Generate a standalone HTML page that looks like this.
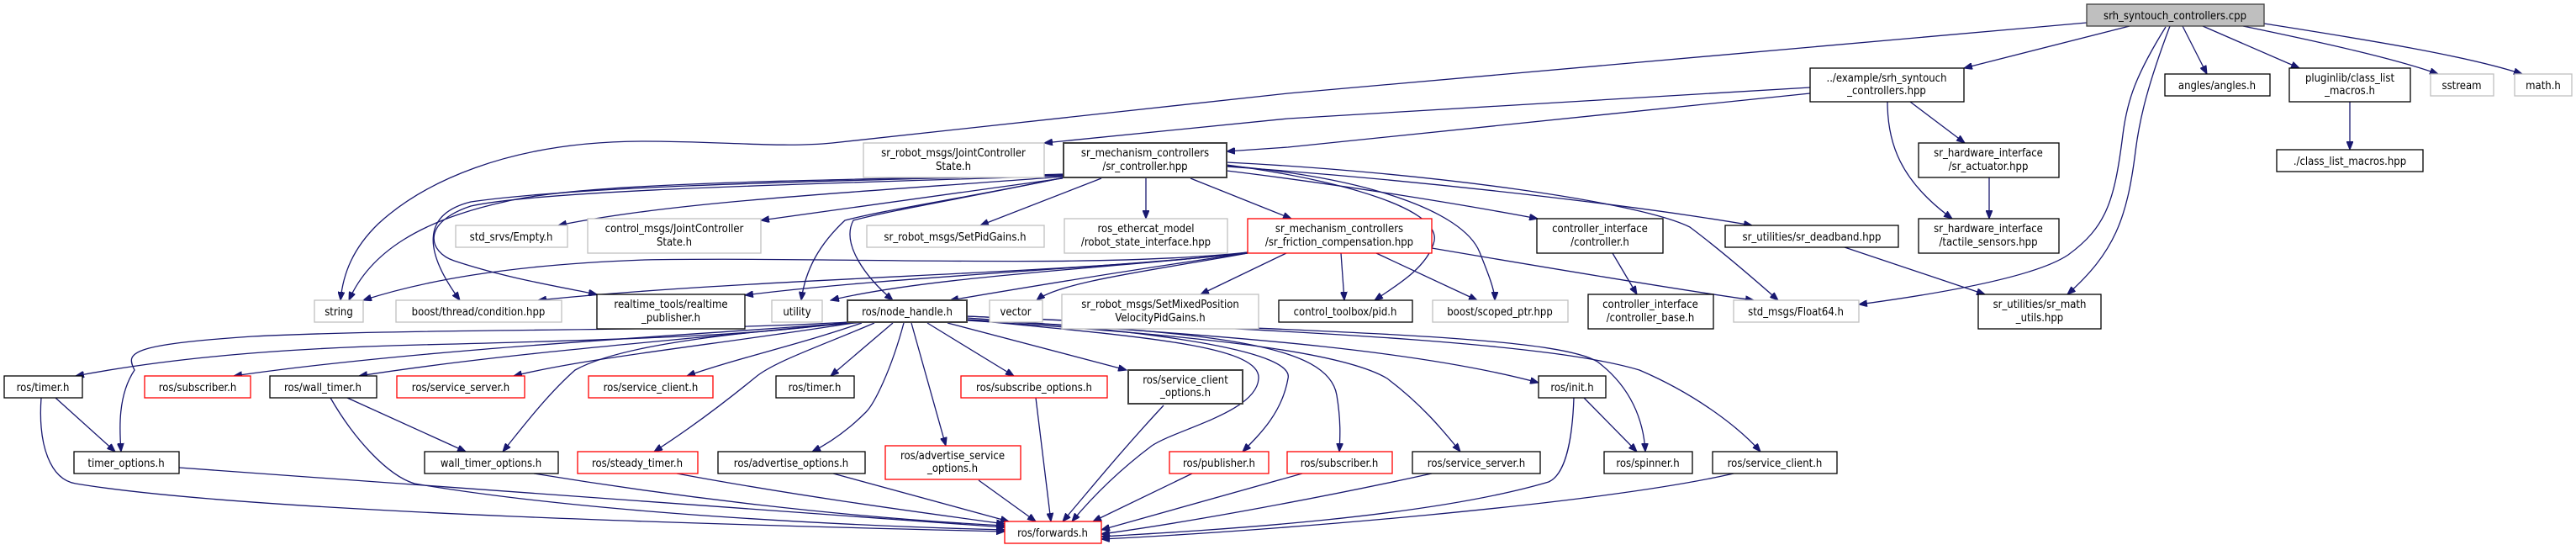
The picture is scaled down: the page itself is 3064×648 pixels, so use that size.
<!DOCTYPE html>
<html><head><meta charset="utf-8"><style>
html,body{margin:0;padding:0;background:#fff;}
svg{display:block;}
text{font-family:"DejaVu Sans Condensed","DejaVu Sans","Liberation Sans",sans-serif;font-size:13px;fill:#000;text-anchor:middle;}
.e{fill:none;stroke:#191970;stroke-width:1.3;marker-end:url(#a);}
.k{fill:#fff;stroke:#000;stroke-width:1.3;}
.d{fill:#fff;stroke:#404040;stroke-width:2;}
.g{fill:#fff;stroke:#bfbfbf;stroke-width:1.3;}
.r{fill:#fff;stroke:#ff0000;stroke-width:1.3;}
.s{fill:#bfbfbf;stroke:#404040;stroke-width:1.3;}
</style></head><body>
<svg width="3064" height="648" viewBox="0 0 3064 648" xmlns="http://www.w3.org/2000/svg">
<defs><marker id="a" markerWidth="11" markerHeight="8" refX="10" refY="4" orient="auto" markerUnits="userSpaceOnUse"><path d="M0,0 L10,4 L0,8 z" fill="#191970" stroke="#191970"/></marker></defs>

<!-- edges from srh -->
<path class="e" d="M2482,27 L1532,111 L990,170 C930,176 860,168 766,168 C600,168 500,220 450,266 C420,295 408,325 405,357"/>
<path class="e" d="M2533,31 L2336,81"/>
<path class="e" d="M2596,31 L2625,88"/>
<path class="e" d="M2620,31 L2735,81"/>
<path class="e" d="M2668,31 C2760,50 2850,70 2900,88"/>
<path class="e" d="M2693,28 C2800,45 2930,65 3000,88"/>
<path class="e" d="M2581,31 C2555,100 2545,140 2540,180 C2530,260 2515,300 2459,350"/>
<path class="e" d="M2576,32 C2540,90 2530,120 2525,160 C2515,240 2505,270 2460,303 C2420,330 2300,350 2211,362"/>
<path class="e" d="M2795,121 L2795,178"/>
<!-- example -->
<path class="e" d="M2153,104 L1532,141 L1242,170"/>
<path class="e" d="M2153,111 L1532,175 L1459,180"/>
<path class="e" d="M2272,121 L2337,170"/>
<path class="e" d="M2245,121 C2245,170 2260,215 2322,260"/>
<path class="e" d="M2366,211 L2366,260"/>
<path class="e" d="M2194,294 L2361,350"/>
<!-- sr_controller -->
<path class="e" d="M1265,207 C1000,215 700,215 600,240 C500,262 440,300 415,357"/>
<path class="e" d="M1265,208 C1000,215 700,220 560,240 C500,255 505,300 547,357"/>
<path class="e" d="M1265,209 C1000,218 650,225 560,245 C500,265 510,300 540,310 C600,330 660,340 710,350"/>
<path class="e" d="M1265,210 C1000,230 800,240 664,268"/>
<path class="e" d="M1264,212 L905,262"/>
<path class="e" d="M1266,211 C1150,235 1050,250 1005,262 C975,290 958,320 953,357"/>
<path class="e" d="M1266,211 C1150,235 1060,250 1015,262 C1000,290 1030,330 1062,357"/>
<path class="e" d="M1310,212 L1166,268"/>
<path class="e" d="M1363,211 L1363,260"/>
<path class="e" d="M1416,212 L1536,260"/>
<path class="e" d="M1459,203 C1600,220 1750,245 1829,260"/>
<path class="e" d="M1459,198 C1700,215 1950,245 2084,268"/>
<path class="e" d="M1459,196 C1600,215 1720,250 1705,290 C1695,320 1660,340 1635,357"/>
<path class="e" d="M1459,197 C1620,210 1740,250 1760,300 C1770,325 1778,345 1778,357"/>
<path class="e" d="M1459,193 C1700,205 1950,240 2010,270 C2050,300 2090,335 2115,357"/>
<!-- friction -->
<path class="e" d="M1484,300 C1300,320 1000,305 766,309 C600,315 500,335 432,357"/>
<path class="e" d="M1484,300 C1300,325 900,330 640,357"/>
<path class="e" d="M1484,301 C1300,320 1050,330 886,351"/>
<path class="e" d="M1484,301 C1300,320 1100,330 988,357"/>
<path class="e" d="M1484,301 C1350,320 1230,340 1130,357"/>
<path class="e" d="M1484,301 C1380,320 1260,335 1233,357"/>
<path class="e" d="M1530,301 L1428,350"/>
<path class="e" d="M1595,301 L1599,357"/>
<path class="e" d="M1637,301 L1757,357"/>
<path class="e" d="M1703,295 C1850,320 2000,345 2086,357"/>
<path class="e" d="M1918,301 L1947,350"/>
<!-- node_handle -->
<path class="e" d="M1008,383 C900,400 700,405 500,410 C300,415 180,430 90,447"/>
<path class="e" d="M1010,383 C800,395 500,390 300,400 C150,410 150,420 160,440 C140,470 142,510 144,537"/>
<path class="e" d="M1010,384 C800,400 500,415 278,447"/>
<path class="e" d="M1012,384 C800,405 600,420 427,447"/>
<path class="e" d="M1015,384 C850,410 700,425 611,447"/>
<path class="e" d="M1030,383 C800,400 720,420 684,440 C650,470 620,510 598,537"/>
<path class="e" d="M1025,384 C950,410 880,425 817,447"/>
<path class="e" d="M1062,384 L988,447"/>
<path class="e" d="M1040,384 C980,410 920,430 898,449 C860,480 820,510 778,537"/>
<path class="e" d="M1075,384 C1060,440 1040,480 1030,490 C1010,510 990,525 966,537"/>
<path class="e" d="M1084,384 L1125,530"/>
<path class="e" d="M1103,384 L1206,447"/>
<path class="e" d="M1127,384 L1340,440"/>
<path class="e" d="M1150,380 C1350,400 1500,410 1497,450 C1495,490 1400,510 1370,530 C1330,560 1300,590 1275,620"/>
<path class="e" d="M1150,378 C1400,395 1540,420 1532,450 C1525,490 1500,515 1478,537"/>
<path class="e" d="M1150,380 C1450,395 1580,410 1590,470 C1595,500 1594,520 1593,537"/>
<path class="e" d="M1150,381 C1450,400 1600,420 1650,450 C1690,480 1715,510 1737,537"/>
<path class="e" d="M1150,380 C1500,400 1700,420 1830,455"/>
<path class="e" d="M1150,376 C1600,395 1850,400 1900,430 C1940,460 1955,500 1957,537"/>
<path class="e" d="M1150,376 C1600,395 1850,410 1950,440 C2020,470 2070,510 2094,537"/>
<!-- to forwards -->
<path class="e" d="M49,473 C45,530 60,570 90,575 C300,610 900,625 1195,632"/>
<path class="e" d="M66,473 L137,537"/>
<path class="e" d="M213,556 L1195,627"/>
<path class="e" d="M413,473 L554,537"/>
<path class="e" d="M393,473 C420,520 460,565 493,575 C700,610 1000,625 1195,630"/>
<path class="e" d="M635,563 C800,590 1000,615 1195,625"/>
<path class="e" d="M805,563 C950,590 1100,610 1195,623"/>
<path class="e" d="M991,563 L1200,620"/>
<path class="e" d="M1164,571 L1232,620"/>
<path class="e" d="M1232,473 L1250,620"/>
<path class="e" d="M1384,482 C1330,540 1290,590 1264,620"/>
<path class="e" d="M1418,563 L1300,620"/>
<path class="e" d="M1549,563 L1310,630"/>
<path class="e" d="M1703,563 C1580,590 1420,620 1310,635"/>
<path class="e" d="M1872,473 C1870,530 1860,565 1842,573 C1700,615 1450,630 1310,638"/>
<path class="e" d="M1884,473 L1947,537"/>
<path class="e" d="M2062,563 C1900,600 1500,632 1310,641"/>

<!-- nodes -->
<rect class="s" x="2482" y="5" width="211" height="26"/><text x="2587" y="23">srh_syntouch_controllers.cpp</text>
<rect class="k" x="2153" y="81" width="183" height="40"/><text x="2244" y="97">../example/srh_syntouch</text><text x="2244" y="112">_controllers.hpp</text>
<rect class="k" x="2575" y="88" width="125" height="26"/><text x="2637" y="106">angles/angles.h</text>
<rect class="k" x="2723" y="81" width="144" height="40"/><text x="2795" y="97">pluginlib/class_list</text><text x="2795" y="112">_macros.h</text>
<rect class="g" x="2891" y="88" width="75" height="26"/><text x="2928" y="106">sstream</text>
<rect class="g" x="2991" y="88" width="68" height="26"/><text x="3025" y="106">math.h</text>
<rect class="g" x="1027" y="170" width="215" height="41"/><text x="1134" y="186">sr_robot_msgs/JointController</text><text x="1134" y="202">State.h</text>
<rect class="d" x="1265" y="170" width="194" height="41"/><text x="1362" y="186">sr_mechanism_controllers</text><text x="1362" y="202">/sr_controller.hpp</text>
<rect class="k" x="2282" y="170" width="167" height="41"/><text x="2365" y="186">sr_hardware_interface</text><text x="2365" y="202">/sr_actuator.hpp</text>
<rect class="k" x="2708" y="178" width="174" height="26"/><text x="2795" y="196">./class_list_macros.hpp</text>
<rect class="g" x="542" y="268" width="133" height="26"/><text x="608" y="286">std_srvs/Empty.h</text>
<rect class="g" x="699" y="260" width="206" height="41"/><text x="802" y="276">control_msgs/JointController</text><text x="802" y="292">State.h</text>
<rect class="g" x="1031" y="268" width="211" height="26"/><text x="1136" y="286">sr_robot_msgs/SetPidGains.h</text>
<rect class="g" x="1266" y="260" width="194" height="41"/><text x="1363" y="276">ros_ethercat_model</text><text x="1363" y="292">/robot_state_interface.hpp</text>
<rect class="r" x="1484" y="260" width="219" height="41"/><text x="1593" y="276">sr_mechanism_controllers</text><text x="1593" y="292">/sr_friction_compensation.hpp</text>
<rect class="k" x="1828" y="260" width="150" height="41"/><text x="1903" y="276">controller_interface</text><text x="1903" y="292">/controller.h</text>
<rect class="k" x="2052" y="268" width="206" height="26"/><text x="2155" y="286">sr_utilities/sr_deadband.hpp</text>
<rect class="k" x="2282" y="260" width="167" height="41"/><text x="2365" y="276">sr_hardware_interface</text><text x="2365" y="292">/tactile_sensors.hpp</text>
<rect class="g" x="374" y="357" width="58" height="26"/><text x="403" y="375">string</text>
<rect class="g" x="471" y="357" width="197" height="26"/><text x="569" y="375">boost/thread/condition.hpp</text>
<rect class="k" x="710" y="350" width="176" height="41"/><text x="798" y="366">realtime_tools/realtime</text><text x="798" y="382">_publisher.h</text>
<rect class="g" x="918" y="357" width="60" height="26"/><text x="948" y="375">utility</text>
<rect class="d" x="1008" y="357" width="142" height="26"/><text x="1079" y="375">ros/node_handle.h</text>
<rect class="g" x="1177" y="357" width="63" height="26"/><text x="1208" y="375">vector</text>
<rect class="g" x="1263" y="350" width="234" height="41"/><text x="1380" y="366">sr_robot_msgs/SetMixedPosition</text><text x="1380" y="382">VelocityPidGains.h</text>
<rect class="k" x="1521" y="357" width="159" height="26"/><text x="1600" y="375">control_toolbox/pid.h</text>
<rect class="g" x="1704" y="357" width="161" height="26"/><text x="1784" y="375">boost/scoped_ptr.hpp</text>
<rect class="k" x="1889" y="350" width="149" height="41"/><text x="1963" y="366">controller_interface</text><text x="1963" y="382">/controller_base.h</text>
<rect class="g" x="2062" y="357" width="149" height="26"/><text x="2136" y="375">std_msgs/Float64.h</text>
<rect class="k" x="2353" y="350" width="146" height="41"/><text x="2426" y="366">sr_utilities/sr_math</text><text x="2426" y="382">_utils.hpp</text>
<rect class="k" x="5" y="447" width="93" height="26"/><text x="51" y="465">ros/timer.h</text>
<rect class="r" x="172" y="447" width="126" height="26"/><text x="235" y="465">ros/subscriber.h</text>
<rect class="k" x="321" y="447" width="127" height="26"/><text x="384" y="465">ros/wall_timer.h</text>
<rect class="r" x="472" y="447" width="152" height="26"/><text x="548" y="465">ros/service_server.h</text>
<rect class="r" x="700" y="447" width="148" height="26"/><text x="774" y="465">ros/service_client.h</text>
<rect class="k" x="923" y="447" width="93" height="26"/><text x="969" y="465">ros/timer.h</text>
<rect class="r" x="1143" y="447" width="174" height="26"/><text x="1230" y="465">ros/subscribe_options.h</text>
<rect class="d" x="1342" y="440" width="136" height="40"/><text x="1410" y="456">ros/service_client</text><text x="1410" y="471">_options.h</text>
<rect class="k" x="1830" y="447" width="80" height="26"/><text x="1870" y="465">ros/init.h</text>
<rect class="k" x="88" y="537" width="125" height="26"/><text x="150" y="555">timer_options.h</text>
<rect class="k" x="505" y="537" width="159" height="26"/><text x="584" y="555">wall_timer_options.h</text>
<rect class="r" x="687" y="537" width="143" height="26"/><text x="758" y="555">ros/steady_timer.h</text>
<rect class="k" x="854" y="537" width="175" height="26"/><text x="941" y="555">ros/advertise_options.h</text>
<rect class="r" x="1053" y="530" width="161" height="40"/><text x="1133" y="546">ros/advertise_service</text><text x="1133" y="561">_options.h</text>
<rect class="r" x="1391" y="537" width="118" height="26"/><text x="1450" y="555">ros/publisher.h</text>
<rect class="r" x="1531" y="537" width="125" height="26"/><text x="1593" y="555">ros/subscriber.h</text>
<rect class="k" x="1680" y="537" width="152" height="26"/><text x="1756" y="555">ros/service_server.h</text>
<rect class="k" x="1908" y="537" width="105" height="26"/><text x="1960" y="555">ros/spinner.h</text>
<rect class="k" x="2037" y="537" width="148" height="26"/><text x="2111" y="555">ros/service_client.h</text>
<rect class="r" x="1195" y="620" width="115" height="26"/><text x="1252" y="638">ros/forwards.h</text>
</svg>
</body></html>
